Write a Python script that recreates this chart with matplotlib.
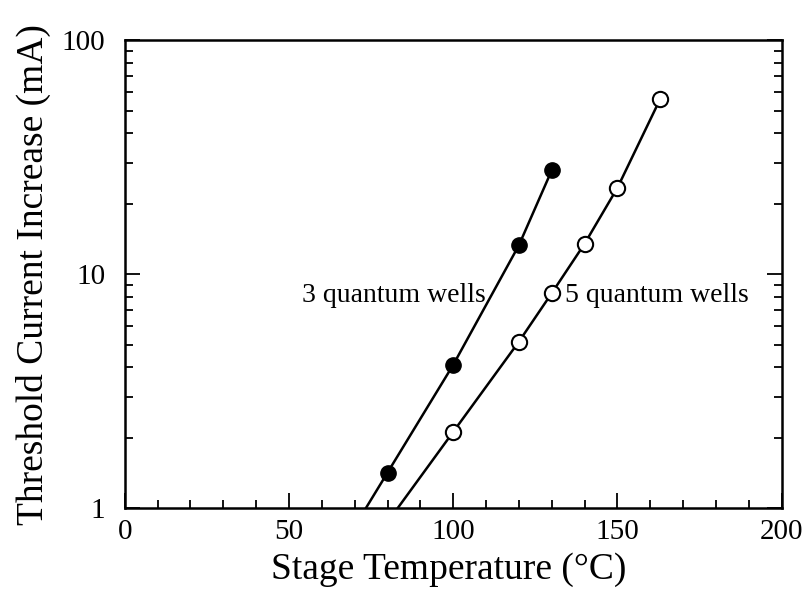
import numpy as np
import matplotlib
matplotlib.use("Agg")
import matplotlib.pyplot as plt
from matplotlib.ticker import FixedLocator, LogLocator, NullFormatter

plt.rcParams["font.family"] = ["Liberation Serif", "DejaVu Serif"]

# 3 quantum wells (filled circles)
temp_3qw = [80, 100, 120, 130]
curr_3qw = [1.42, 4.1, 13.3, 27.8]

# 5 quantum wells (open circles)
temp_5qw = [100, 120, 130, 140, 150, 163]
curr_5qw = [2.12, 5.15, 8.3, 13.5, 23.4, 56]

x_ticks = [0, 50, 100, 150, 200]
y_ticks = [1, 10, 100]
y_ticklabels = ["1", "10", "100"]


def trend_line(x, y):
    # join the points and carry the first segment down to the x axis (y=1)
    ly = np.log10(y)
    slope = (ly[1] - ly[0]) / (x[1] - x[0])
    x0 = x[0] - ly[0] / slope
    xs = [x0] + list(x)
    ys = [1.0] + list(y)
    return xs, ys


fig = plt.figure(figsize=(8.05, 5.91), dpi=100)
ax = fig.add_axes([0.155, 0.140, 0.816, 0.792])

xs, ys = trend_line(temp_3qw, curr_3qw)
ax.plot(xs, ys, color="black", lw=1.8)
xs, ys = trend_line(temp_5qw, curr_5qw)
ax.plot(xs, ys, color="black", lw=1.8)

ax.plot(temp_3qw, curr_3qw, "o", ms=11, color="black")
ax.plot(temp_5qw, curr_5qw, "o", ms=11, mfc="white", mec="black", mew=1.5)

ax.set_yscale("log")
ax.set_xlim(0, 200)
ax.set_ylim(1, 100)

ax.xaxis.set_major_locator(FixedLocator(x_ticks))
ax.xaxis.set_minor_locator(FixedLocator(np.arange(0, 201, 10)))
ax.set_xticklabels([str(t) for t in x_ticks])
ax.yaxis.set_major_locator(FixedLocator(y_ticks))
ax.yaxis.set_minor_locator(LogLocator(base=10, subs=np.arange(2, 10)))
ax.yaxis.set_minor_formatter(NullFormatter())
ax.set_yticklabels(y_ticklabels)

ax.tick_params(which="both", direction="in", top=False, right=True,
               width=1.3, labelsize=21)
ax.tick_params(which="major", length=11)
ax.tick_params(which="minor", length=6)
ax.tick_params(axis="x", pad=8)
ax.tick_params(axis="y", pad=14)

for s in ax.spines.values():
    s.set_linewidth(1.8)

ax.set_xlabel("Stage Temperature (°C)", fontsize=27, labelpad=4)
ax.xaxis.set_label_coords(0.493, -0.095)
ax.set_ylabel("Threshold Current Increase (mA)", fontsize=27, labelpad=8)

ax.text(110, 8.1, "3 quantum wells", fontsize=20, ha="right", va="center")
ax.text(134, 8.1, "5 quantum wells", fontsize=20, ha="left", va="center")

fig.savefig("out.png", dpi=100)
